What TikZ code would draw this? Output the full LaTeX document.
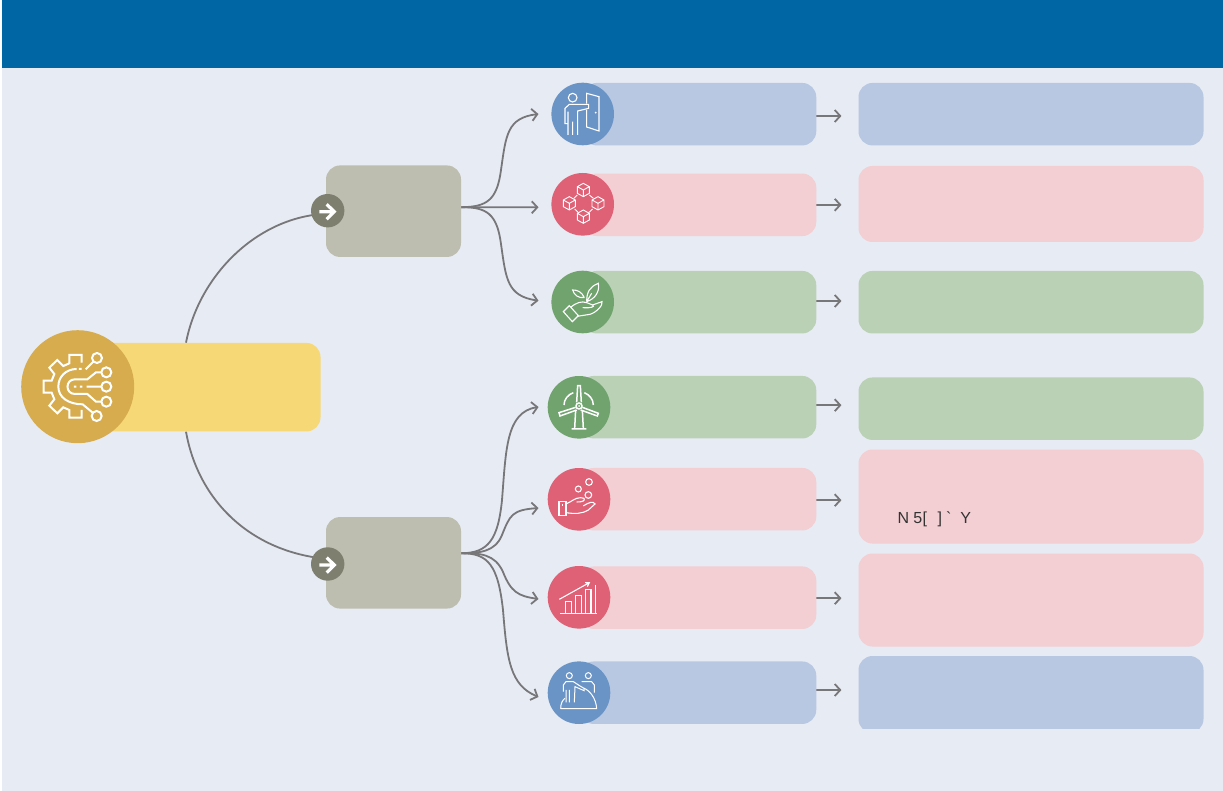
\documentclass[tikz,border=0pt]{standalone}
\usepackage{fontspec}
\setmainfont{Liberation Sans}
\newfontfamily\rawsans{Liberation Sans}
\usetikzlibrary{arrows.meta}
\pgfdeclarelayer{under}
\pgfsetlayers{under,main}
\definecolor{pagebg}{HTML}{E7EBF3}
\definecolor{headbg}{HTML}{0066A4}
\definecolor{yelL}{HTML}{F7D877}
\definecolor{yelD}{HTML}{D7AC4E}
\definecolor{bluL}{HTML}{B8C8E2}
\definecolor{bluD}{HTML}{6B94C6}
\definecolor{pnkL}{HTML}{F3CED2}
\definecolor{pnkD}{HTML}{DF6176}
\definecolor{grnL}{HTML}{BAD1B6}
\definecolor{grnD}{HTML}{70A36E}
\definecolor{tanL}{HTML}{BDBEAF}
\definecolor{tanD}{HTML}{7E7F6F}
\definecolor{wire}{HTML}{77777A}
\tikzset{
  panel/.style={draw=none,inner sep=0,rounded corners=14pt,minimum width=#1},
  disc/.style={circle,draw=none,inner sep=0,minimum size=#1},
  wireline/.style={draw=wire,line width=1.8pt},
  link/.style={wireline,-{Straight Barb[length=5.5pt,width=12pt,line width=1.8pt]}},
  icon/.style={draw=white,line width=1.1pt,line join=miter,fill=none},
  zoomA/.style={shift={(540,75)},x=0.3333pt,y=-0.3333pt},
  zoomB/.style={shift={(540,370)},x=0.3333pt,y=-0.3333pt},
}
\newcommand{\cubeat}[2]{%
  \draw[icon,line width=0.9pt,shift={(#1,#2)}] (0,-20) -- (18,-10) -- (18,10) -- (0,20) -- (-18,10) -- (-18,-10) -- cycle
    (-18,-10) -- (0,0) -- (18,-10) (0,0) -- (0,20);}
\begin{document}
\begin{tikzpicture}[x=1pt,y=-1pt]
\useasboundingbox (0,0) rectangle (1223,791);
\begin{pgfonlayer}{under}
\fill[white] (0,0) rectangle (1223,791);
\fill[pagebg] (2,0) rectangle (1223,791);
\fill[headbg] (2,0) rectangle (1223,68);
\end{pgfonlayer}
% centre column
\node[panel=243pt,minimum height=88.5pt,fill=yelL] (main) at (199,387.2) {};
\node[disc=113pt,fill=yelD] (maind) at (77.7,386.7) {};
\node[panel=135pt,minimum height=91.5pt,fill=tanL] (t1) at (393.5,211.2) {};
\node[disc=33.4pt,fill=tanD] (g1) at (327.7,210.7) {};
\node[panel=135pt,minimum height=91.5pt,fill=tanL] (t2) at (393.5,562.8) {};
\node[disc=33.4pt,fill=tanD] (g2) at (327.7,564) {};
% middle rows
\node[panel=233.5pt,minimum height=62.5pt,fill=bluL] (m1) at (699.5,114.2) {};
\node[disc=62.6pt,fill=bluD] (d1) at (582.7,114) {};
\node[panel=233.5pt,minimum height=62.5pt,fill=pnkL] (m2) at (699.5,204.8) {};
\node[disc=62.6pt,fill=pnkD] (d2) at (582.7,204.3) {};
\node[panel=233.5pt,minimum height=62.5pt,fill=grnL] (m3) at (699.5,302.2) {};
\node[disc=62.6pt,fill=grnD] (d3) at (582.7,302) {};
\node[panel=236.5pt,minimum height=62.5pt,fill=grnL] (m4) at (698,407.2) {};
\node[disc=62.6pt,fill=grnD] (d4) at (579,407.3) {};
\node[panel=236.5pt,minimum height=62.5pt,fill=pnkL] (m5) at (698,499.2) {};
\node[disc=62.6pt,fill=pnkD] (d5) at (579,499.3) {};
\node[panel=236.5pt,minimum height=62.5pt,fill=pnkL] (m6) at (698,597.7) {};
\node[disc=62.6pt,fill=pnkD] (d6) at (579,597.3) {};
\node[panel=236.5pt,minimum height=62.5pt,fill=bluL] (m7) at (698,692.7) {};
\node[disc=62.6pt,fill=bluD] (d7) at (579,692.7) {};
% right column
\node[panel=345pt,minimum height=62.5pt,fill=bluL] (r1) at (1031,114.2) {};
\node[panel=345pt,minimum height=76pt,fill=pnkL] (r2) at (1031,204) {};
\node[panel=345pt,minimum height=62.5pt,fill=grnL] (r3) at (1031,302.2) {};
\node[panel=345pt,minimum height=62.5pt,fill=grnL] (r4) at (1031,408.7) {};
\node[panel=345pt,minimum height=94pt,fill=pnkL] (r5) at (1031,496.5) {};
\node[panel=345pt,minimum height=93pt,fill=pnkL] (r6) at (1031,600) {};
\begin{scope}
\clip (850,650) rectangle (1210,728.8);
\node[panel=345pt,minimum height=77pt,fill=bluL] (r7) at (1031,694.5) {};
\end{scope}
\node[anchor=base west,inner sep=0,text=black!80,font=\rawsans\fontsize{16}{16}\selectfont] (lab) at (897.5,523)
  {N\hspace{4pt}5\hspace{0.5pt}[\hspace{10.5pt}]\hspace{4pt}`\hspace{9pt}Y};
% connectors
\coordinate (e1) at (538.5,114);
\coordinate (e2) at (538.5,207.3);
\coordinate (e3) at (538.5,300.7);
\coordinate (e4) at (538.5,407);
\coordinate (e5) at (538.5,508);
\coordinate (e6) at (538.5,599);
\coordinate (e7) at (538.5,697);
\coordinate (s1) at ([yshift=4pt]t1.east);
\coordinate (s2) at ([yshift=9.5pt]t2.east);
\begin{pgfonlayer}{under}
\draw[wireline] (main.north -| 186,0) .. controls (199,275) and (258,216) .. ([yshift=-3pt]g1.center);
\draw[wireline] (main.south -| 186,0) .. controls (198,500) and (250,552) .. ([yshift=5pt]g2.center);
\draw[link] (s1) .. controls (487,207) and (497,200) .. (501,170) .. controls (506,135) and (507,118) .. (e1);
\draw[link] (s1) -- (e2);
\draw[link] (s1) .. controls (487,207) and (497,214) .. (501,244) .. controls (506,279) and (507,296) .. (e3);
\draw[link] (s2) .. controls (488,553) and (498,540) .. (502,500) .. controls (506,450) and (506,412) .. (e4);
\draw[link] (s2) .. controls (480,553) and (495,552) .. (502,535) .. controls (510,515) and (512,510) .. (e5);
\draw[link] (s2) .. controls (480,553) and (495,554) .. (503,572) .. controls (511,592) and (518,596) .. (e6);
\draw[link] (s2) .. controls (488,553) and (498,565) .. (503,610) .. controls (507,660) and (510,685) .. (e7);
\draw[link] (m1.east) ++(0,1.8) -- +(25,0);
\draw[link] (m2.east) -- +(25,0);
\draw[link] (m3.east) ++(0,-1.2) -- +(25,0);
\draw[link] (m4.east) ++(0,-2) -- +(25,0);
\draw[link] (m5.east) ++(0,1) -- +(25,0);
\draw[link] (m6.east) ++(0,0.5) -- +(25,0);
\draw[link] (m7.east) ++(0,-2.7) -- +(25,0);
\end{pgfonlayer}
% small arrows in discs
\begin{scope}[shift={(300,90)},x=0.3333pt,y=-0.3333pt]
\draw[white,line width=3.2pt] (58,365) -- (103,365) (80,343) -- (103,365) -- (80,388);
\end{scope}
\begin{scope}[shift={(300,443.3)},x=0.3333pt,y=-0.3333pt]
\draw[white,line width=3.2pt] (58,365) -- (103,365) (80,343) -- (103,365) -- (80,388);
\end{scope}
% gear icon
\begin{scope}[shift={(0,320)},x=0.3333pt,y=-0.3333pt]
\draw[icon,line width=2pt] (245,128) -- (245,105) -- (208,105) -- (208,130) -- (190,138) -- (172,120) -- (148,143) -- (163,162) -- (155,182) -- (131,182) -- (131,218) -- (155,218) -- (163,238) -- (148,257) -- (172,280) -- (190,262) -- (208,270) -- (208,293) -- (245,293) -- (245,270);
\draw[icon,line width=2pt] (230,147) .. controls (198,147) and (175,170) .. (175,200) .. controls (175,232) and (205,253) .. (248,253) -- (278,278);
\draw[icon,line width=2pt] (304,157) -- (288,157) -- (262,178) -- (225,178) .. controls (195,178) and (195,222) .. (225,222) -- (262,222) -- (288,245) -- (304,245);
\draw[icon,line width=2pt] (303,200) -- (260,200) (222,200) -- (229,200) (240,200) -- (247,200) (237,147) -- (245,147) (280,125) -- (257,148);
\draw[icon,line width=2pt] (291,114) circle (15) (319,157) circle (15) (319,200) circle (15) (319,245) circle (15) (290,288) circle (15);
\end{scope}
% person and door
\begin{scope}[zoomA]
\draw[icon] (98,68) circle (13);
\draw[icon] (113,180) -- (113,108) -- (146,100) -- (146,88) -- (88,88) -- (75,100) -- (75,146) -- (84,146) -- (84,180) (84,110) -- (84,146) (98,140) -- (98,180);
\draw[icon] (140,86) -- (140,55) -- (177,65) -- (177,168) -- (140,156) -- (140,104);
\fill[white] (167,113) circle (3);
\end{scope}
% blocks
\begin{scope}[zoomA]
\cubeat{130}{345}\cubeat{88}{385}\cubeat{174}{385}\cubeat{130}{425}
\draw[icon,line width=0.9pt] (112,360) -- (102,370) (148,360) -- (160,370) (104,402) -- (115,413) (158,402) -- (146,413);
\end{scope}
% plant in hand
\begin{scope}[zoomA]
\draw[icon] (70,710) -- (88,692) -- (115,722) -- (97,740) -- cycle;
\draw[icon] (92,697) .. controls (110,682) and (125,678) .. (140,683) -- (158,690) .. controls (165,695) and (155,700) .. (128,698);
\draw[icon] (158,690) -- (186,680) .. controls (190,690) and (170,712) .. (150,718) -- (112,724);
\draw[icon] (140,680) .. controls (140,650) and (150,635) .. (175,625) .. controls (180,650) and (165,672) .. (140,680) (140,680) -- (155,655);
\draw[icon] (133,668) .. controls (125,650) and (112,645) .. (98,645) .. controls (102,660) and (115,670) .. (133,668);
\end{scope}
% turbine
\begin{scope}[zoomB]
\draw[icon,line width=1.5pt] (117,108) circle (9);
\fill[white] (117,108) circle (3);
\draw[icon,line width=1.5pt] (110,97) -- (113,47) -- (121,47) -- (124,97) (127,112) -- (175,130) -- (172,138) -- (122,120) (107,112) -- (57,128) -- (60,138) -- (110,120);
\draw[icon,line width=1.5pt] (107,120) -- (104,175) (127,120) -- (130,175) (95,177) -- (139,177);
\draw[icon,line width=1.5pt] (72,105) .. controls (72,88) and (84,74) .. (100,68) (160,105) .. controls (160,88) and (148,74) .. (133,68);
\end{scope}
% hand with coins
\begin{scope}[zoomB]
\draw[icon] (57,395) rectangle (78,436);
\fill[white] (66,402) rectangle (69,409);
\draw[icon] (78,402) .. controls (95,395) and (105,383) .. (122,383) -- (132,385) .. controls (135,392) and (130,396) .. (110,396);
\draw[icon] (78,428) .. controls (105,432) and (125,432) .. (145,420) -- (165,402) .. controls (160,393) and (148,396) .. (130,408);
\draw[icon] (115,357) circle (9) (147,336) circle (10) (145,375) circle (10);
\end{scope}
% chart
\begin{scope}[zoomB]
\draw[icon] (60,730) -- (171,730) (77,730) -- (77,695) -- (95,695) -- (95,730) (107,730) -- (107,677) -- (125,677) -- (125,730) (137,730) -- (137,658) -- (153,658) -- (153,730) (166,645) -- (166,730);
\draw[icon] (58,688) -- (148,638) (135,638) -- (148,638) -- (142,650);
\end{scope}
% team
\begin{scope}[zoomB]
\draw[icon,line width=1pt] (88,917) circle (9) (145,917) circle (9);
\draw[icon,line width=1pt] (70,965) -- (70,945) -- (78,935) -- (100,935) -- (120,948) -- (132,955) -- (132,962) -- (105,950) -- (103,997) (88,960) -- (88,997) (78,960) -- (78,997);
\draw[icon,line width=1pt] (125,935) -- (155,935) -- (163,945) -- (163,968);
\draw[icon,line width=1pt] (62,1016) -- (170,1016) .. controls (168,985) and (150,962) .. (132,955) (62,1016) .. controls (62,1000) and (68,990) .. (75,985);
\end{scope}
\end{tikzpicture}
\end{document}
